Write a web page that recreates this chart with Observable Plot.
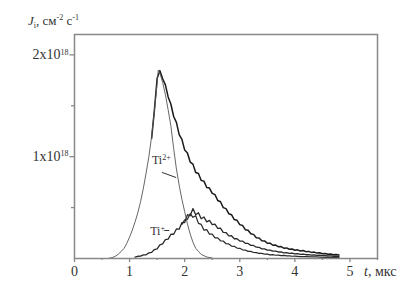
<!DOCTYPE html>
<html><head><meta charset="utf-8">
<script src="https://cdn.jsdelivr.net/npm/d3@7"></script>
<script src="https://cdn.jsdelivr.net/npm/@observablehq/plot@0.6"></script>
<style>body{margin:0;background:#fff}</style>
</head><body><div id="chart"></div>
<script>
// Smooth curve (rising edge, peak, steep fall)
const tSmooth = [0.60,0.65,0.70,0.75,0.80,0.85,0.90,0.95,1.00,1.05,1.10,1.15,1.20,1.25,1.30,1.35,1.40,1.45,1.50,1.52,1.55,1.60,1.65,1.70,1.75,1.80,1.85,1.90,1.95,2.00,2.05,2.10,2.15,2.20,2.25,2.30,2.40,2.50];
const jSmooth = [0.00,0.005,0.012,0.025,0.045,0.07,0.10,0.15,0.21,0.28,0.36,0.45,0.56,0.69,0.84,1.00,1.20,1.45,1.72,1.85,1.82,1.73,1.61,1.46,1.30,1.08,0.88,0.72,0.58,0.46,0.34,0.24,0.16,0.10,0.07,0.04,0.015,0.005];

// Upper noisy curve
const tUpper = [1.40,1.45,1.50,1.55,1.60,1.65,1.70,1.75,1.80,1.85,1.90,1.95,2.00,2.05,2.10,2.15,2.20,2.25,2.30,2.35,2.40,2.45,2.50,2.55,2.60,2.65,2.70,2.75,2.80,2.85,2.90,2.95,3.00,3.05,3.10,3.15,3.20,3.25,3.30,3.35,3.40,3.45,3.50,3.55,3.60,3.65,3.70,3.75,3.80,3.85,3.90,3.95,4.00,4.05,4.10,4.15,4.20,4.25,4.30,4.35,4.40,4.45,4.50,4.55,4.60,4.65,4.70,4.75,4.80];
const jUpper = [1.18,1.455,1.77,1.845,1.765,1.705,1.587,1.515,1.395,1.337,1.217,1.17,1.065,1.037,0.947,0.927,0.845,0.835,0.767,0.76,0.697,0.692,0.64,0.627,0.57,0.557,0.50,0.49,0.44,0.43,0.383,0.375,0.333,0.325,0.283,0.277,0.244,0.237,0.204,0.201,0.175,0.173,0.15,0.15,0.13,0.132,0.116,0.117,0.101,0.104,0.091,0.093,0.081,0.085,0.074,0.078,0.067,0.07,0.06,0.063,0.053,0.056,0.047,0.05,0.042,0.045,0.037,0.04,0.034];

// Middle noisy curve (Ti+)
const tMiddle = [1.10,1.15,1.20,1.25,1.30,1.35,1.40,1.45,1.50,1.55,1.60,1.65,1.70,1.75,1.80,1.85,1.90,1.95,2.00,2.05,2.10,2.15,2.20,2.25,2.30,2.35,2.40,2.45,2.50,2.55,2.60,2.65,2.70,2.75,2.80,2.85,2.90,2.95,3.00,3.05,3.10,3.15,3.20,3.25,3.30,3.35,3.40,3.45,3.50,3.55,3.60,3.65,3.70,3.75,3.80,3.85,3.90,3.95,4.00,4.05,4.10,4.15,4.20,4.25,4.30,4.35,4.40,4.45,4.50,4.55,4.60,4.65,4.70,4.75,4.80];
const jMiddle = [0.013,0.022,0.023,0.036,0.037,0.055,0.06,0.088,0.094,0.133,0.143,0.185,0.19,0.238,0.238,0.29,0.288,0.353,0.353,0.43,0.42,0.49,0.43,0.45,0.39,0.408,0.36,0.375,0.333,0.338,0.295,0.298,0.257,0.255,0.223,0.224,0.194,0.194,0.171,0.171,0.15,0.148,0.129,0.128,0.111,0.11,0.095,0.095,0.082,0.083,0.073,0.073,0.064,0.065,0.056,0.058,0.05,0.052,0.045,0.047,0.041,0.043,0.037,0.039,0.034,0.036,0.031,0.032,0.028,0.029,0.025,0.026,0.022,0.023,0.02];

// Lower noisy curve
const tLower = [1.95,2.00,2.05,2.10,2.15,2.20,2.25,2.30,2.35,2.40,2.45,2.50,2.55,2.60,2.65,2.70,2.75,2.80,2.85,2.90,2.95,3.00,3.05,3.10,3.15,3.20,3.25,3.30,3.35,3.40,3.45,3.50,3.55,3.60,3.65,3.70,3.75,3.80,3.85,3.90,3.95,4.00,4.10,4.20,4.30,4.40,4.50,4.60,4.70,4.80];
const jLower = [0.335,0.38,0.385,0.44,0.405,0.42,0.345,0.335,0.278,0.283,0.24,0.24,0.203,0.203,0.174,0.172,0.145,0.143,0.122,0.12,0.102,0.10,0.085,0.083,0.07,0.07,0.059,0.058,0.05,0.05,0.042,0.043,0.036,0.038,0.032,0.033,0.029,0.03,0.025,0.026,0.022,0.023,0.019,0.019,0.015,0.016,0.012,0.013,0.01,0.011];

// Axes
const xTicks = [0,1,2,3,4,5];
const xMinorTicks = [0.5,1.5,2.5,3.5,4.5,5.5];
const yTicks = [1,2];
const yTickLabels = ["1x10","2x10"];
const yTickExponent = "18";
const yMinorTicks = [0.5,1.5];

// Annotations
const annText = ["Ti","Ti"];
const annSup = ["2+","+"];
const annT = [1.405,1.374];
const annJ = [0.97,0.27];
const ptrT1 = [1.586,1.63];
const ptrJ1 = [0.846,0.275];
const ptrT2 = [1.846,1.72];
const ptrJ2 = [0.795,0.275];

const toRows = (ts, js) => ts.map((t, i) => ({t, j: js[i]}));
const anns = annText.map((s, i) => ({s, t: annT[i], j: annJ[i]}));
const ptrs = ptrT1.map((t, i) => ({t1: t, j1: ptrJ1[i], t2: ptrT2[i], j2: ptrJ2[i]}));

const plot = Plot.plot({
  width: 414, height: 286,
  marginLeft: 74, marginRight: 37, marginTop: 34, marginBottom: 28,
  x: {domain: [0, 5.5]},
  y: {domain: [0, 2.2]},
  style: {fontFamily: "'Liberation Serif', serif", fontSize: "14px", background: "#fff", color: "#333"},
  marks: [
    Plot.axisX({ticks: xTicks, tickSize: 4, tickPadding: 4, label: null, stroke: "#888", strokeWidth: 1.3, fill: "#333", fontSize: 14, tickFormat: d => String(d)}),
    Plot.axisX({ticks: xMinorTicks, tickSize: 2, text: null, label: null, stroke: "#888", strokeWidth: 1.3}),
    Plot.axisY({ticks: yTicks, tickSize: 4.5, tickPadding: 1.5, label: null, stroke: "#888", strokeWidth: 1.3, fill: "#333", fontSize: 14, tickFormat: d => yTickLabels[yTicks.indexOf(d)]}),
    Plot.axisY({ticks: yMinorTicks, tickSize: 3, text: null, label: null, stroke: "#888", strokeWidth: 1.3}),
    Plot.line(toRows(tLower, jLower), {x: "t", y: "j", stroke: "#2a2a2a", strokeWidth: 1.2}),
    Plot.line(toRows(tMiddle, jMiddle), {x: "t", y: "j", stroke: "#2a2a2a", strokeWidth: 1.3}),
    Plot.line(toRows(tUpper, jUpper), {x: "t", y: "j", stroke: "#1a1a1a", strokeWidth: 1.5}),
    Plot.line(toRows(tSmooth, jSmooth), {x: "t", y: "j", stroke: "#555", strokeWidth: 0.9}),
    Plot.link(ptrs, {x1: "t1", y1: "j1", x2: "t2", y2: "j2", stroke: "#333", strokeWidth: 1}),
    Plot.text(anns, {x: "t", y: "j", text: "s", textAnchor: "start", fontSize: 12, fill: "#333"}),
    Plot.frame({stroke: "#888", strokeWidth: 1.5})
  ]
});

const svg = d3.select(plot);
svg.selectAll('g[aria-label="y-axis tick label"] text')
  .filter(function() { return this.textContent.trim().length > 0; })
  .append("tspan").attr("dy", "-0.6em").attr("font-size", "8px").text(yTickExponent);
svg.selectAll('g[aria-label="text"] text').each(function(d, i) {
  d3.select(this).append("tspan").attr("dy", "-0.5em").attr("font-size", "8px").text(annSup[i]);
});

// Y axis title
const yt = svg.append("text").attr("x", 28).attr("y", 25).attr("font-size", 13).attr("fill", "#333").attr("text-anchor", "start");
yt.append("tspan").attr("font-style", "italic").text("J");
yt.append("tspan").attr("font-size", 8).attr("dy", 3).text("i");
yt.append("tspan").attr("dy", -3).text(", см");
yt.append("tspan").attr("font-size", 8).attr("dy", -5).text("-2");
yt.append("tspan").attr("dy", 5).text(" с");
yt.append("tspan").attr("font-size", 8).attr("dy", -5).text("-1");

// X axis title
const xt = svg.append("text").attr("x", 364).attr("y", 276).attr("font-size", 14).attr("fill", "#333").attr("text-anchor", "start");
xt.append("tspan").attr("font-style", "italic").text("t");
xt.append("tspan").text(", мкс");

document.getElementById("chart").append(plot);
</script>
</body></html>
